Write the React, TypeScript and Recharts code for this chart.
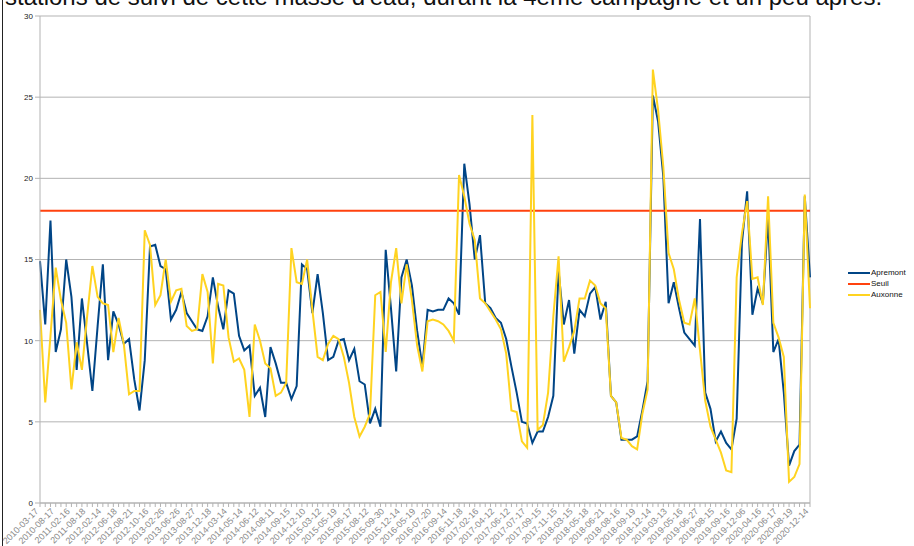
import { CartesianGrid, Line, LineChart, ReferenceLine, XAxis, YAxis } from "recharts";

// Apremont / Auxonne measurements, one value per sampling date
const apremont = [
  14.9, 11.0, 17.4, 9.3, 10.7, 15.0, 12.7, 8.2, 12.6, 9.8, 6.9, 10.9, 14.7, 8.8, 11.8, 11.0, 9.8, 10.1, 7.6, 5.7,
  8.8, 15.8, 15.9, 14.6, 14.4, 11.3, 11.9, 13.0, 11.7, 11.2, 10.7, 10.6, 11.5, 13.9, 12.1, 10.7, 13.1, 12.9,
  10.3, 9.4, 9.7, 6.6, 7.1, 5.3, 9.6, 8.6, 7.4, 7.4, 6.4, 7.2, 14.7, 14.4, 11.7, 14.1, 11.7, 8.8, 9.0, 10.0,
  10.1, 8.8, 9.5, 7.5, 7.3, 4.9, 5.8, 4.7, 15.6, 12.0, 8.1, 13.9, 15.0, 13.4, 10.6, 8.4, 11.9,
  11.8, 11.9, 11.9, 12.6, 12.3, 11.6, 20.9, 18.4, 15.0, 16.5, 12.3, 12.0, 11.4, 11.1, 10.1, 8.4, 6.8, 5.0,
  4.9, 3.7, 4.4, 4.4, 5.3, 6.6, 14.3, 11.0, 12.5, 9.2, 11.9, 11.5, 12.9, 13.3, 11.3, 12.4, 6.6, 6.2, 3.9,
  3.9, 3.9, 4.1, 5.7, 7.5, 25.1, 23.5, 20.1, 12.3, 13.6, 12.0, 10.5, 10.1, 9.7, 17.5, 6.8, 5.8, 3.8, 4.4,
  3.7, 3.3, 5.2, 16.0, 19.2, 11.6, 13.2, 12.3, 17.6, 9.3, 10.1, 6.8, 2.3, 3.2, 3.6, 18.9, 13.9,
];

const auxonne = [
  11.9, 6.2, 10.3, 14.5, 12.5, 11.1, 7.0, 9.9, 8.2, 11.5, 14.6, 12.7, 12.3, 12.2, 9.3, 11.4, 9.8, 6.7, 6.9, 6.9,
  16.8, 15.9, 12.2, 12.8, 15.0, 12.4, 13.1, 13.2, 10.9, 10.6, 10.7, 14.1, 13.0, 8.6, 13.5, 13.4, 10.2, 8.7,
  8.9, 8.2, 5.3, 11.0, 10.0, 8.6, 8.3, 6.6, 6.8, 7.4, 15.7, 13.6, 13.5, 15.0, 11.9, 9.0, 8.8, 9.8, 10.3,
  10.1, 9.0, 7.4, 5.3, 4.1, 4.7, 5.5, 12.8, 13.0, 9.3, 13.6, 15.7, 12.3, 14.7, 12.5, 9.7, 8.1, 11.2,
  11.3, 11.2, 11.0, 10.6, 10.0, 20.2, 18.9, 17.2, 16.2, 12.6, 12.3, 11.8, 11.3, 10.7, 9.2, 5.7, 5.6, 3.8,
  3.4, 23.9, 4.5, 4.8, 6.8, 11.5, 15.2, 8.7, 9.6, 10.6, 12.6, 12.6, 13.7, 13.4, 12.3, 12.0, 6.6, 6.2, 4.0,
  3.9, 3.5, 3.3, 5.5, 7.0, 26.7, 24.2, 20.7, 15.4, 14.4, 12.5, 11.1, 11.0, 12.6, 9.4, 6.3, 4.7, 3.9, 3.1,
  2.0, 1.9, 13.9, 16.6, 18.6, 13.8, 13.9, 12.2, 18.9, 11.1, 10.2, 9.0, 1.3, 1.6, 2.4, 19.0, 12.0,
];

const seuil = 18;

// dates shown under the axis (one label every 3rd sample)
const dateLabels = [
  "2010-03-17", "2010-08-17", "2011-02-16", "2011-08-18", "2012-02-14", "2012-06-18", "2012-08-21",
  "2012-10-16", "2013-02-26", "2013-06-26", "2013-08-27", "2013-12-18", "2014-03-14", "2014-05-14",
  "2014-06-12", "2014-08-11", "2014-09-15", "2014-12-10", "2015-03-12", "2015-05-19", "2015-06-17",
  "2015-08-12", "2015-09-30", "2015-12-14", "2016-05-19", "2016-07-20", "2016-09-14", "2016-11-18",
  "2017-02-16", "2017-04-12", "2017-06-12", "2017-07-17", "2017-09-15", "2017-11-15", "2018-03-15",
  "2018-05-18", "2018-06-21", "2018-08-16", "2018-09-19", "2018-12-14", "2019-03-13", "2019-05-16",
  "2019-06-27", "2019-08-15", "2019-09-16", "2019-12-06", "2020-04-16", "2020-06-17", "2020-08-19",
  "2020-12-14",
];
const labelStep = 3;

const yTicks = [0, 5, 10, 15, 20, 25, 30];

const series = [
  { key: "apremont", name: "Apremont", color: "#004586" },
  { key: "seuil", name: "Seuil", color: "#ff420e" },
  { key: "auxonne", name: "Auxonne", color: "#ffd320" },
];

const data = apremont.map((v, i) => ({ idx: i, apremont: v, seuil, auxonne: auxonne[i] }));
const allTicks = data.map((d) => d.idx);

function DateTick({ x, y, payload }: any) {
  const i = payload.value as number;
  if (i % labelStep !== 0) return null;
  const label = dateLabels[i / labelStep];
  return (
    <g transform={`translate(${x - 1},${y + 3})`}>
      <text textAnchor="end" transform="rotate(-45)" fontSize={9} fill="#8a8a8a" fontFamily="Liberation Sans, Arial, sans-serif">
        {label}
      </text>
    </g>
  );
}

export default function App() {
  return (
    <div style={{ position: "absolute", left: 0, top: 0, width: 914, height: 546, overflow: "hidden", background: "#fff" }}>
      <div
        style={{
          position: "absolute",
          left: 5,
          top: -17,
          fontFamily: "Liberation Sans, Arial, sans-serif",
          fontSize: 24,
          lineHeight: "28px",
          color: "#111",
          whiteSpace: "nowrap",
        }}
      >
        stations de suivi de cette masse d'eau, durant la 4ème campagne et un peu après.
      </div>
      <div style={{ position: "absolute", left: 2, top: 0, width: 1, height: 546, background: "#222" }} />

      <LineChart width={914} height={546} data={data} margin={{ top: 16, right: 104, bottom: 0, left: 0 }}>
        <CartesianGrid vertical={false} stroke="#b3b3b3" />
        <XAxis
          dataKey="idx"
          type="number"
          domain={[0, apremont.length - 1]}
          ticks={allTicks}
          interval={0}
          height={43}
          tick={<DateTick />}
          tickSize={4}
          stroke="#b3b3b3"
        />
        <YAxis
          domain={[0, 30]}
          ticks={yTicks}
          width={40}
          tickSize={5}
          tickMargin={2}
          stroke="#b3b3b3"
          tick={{ fontSize: 8, fill: "#222", fontFamily: "Liberation Sans, Arial, sans-serif" }}
        />
        <ReferenceLine x={apremont.length - 1} stroke="#b3b3b3" />
        {series.map((s) => (
          <Line
            key={s.key}
            dataKey={s.key}
            name={s.name}
            stroke={s.color}
            strokeWidth={2}
            dot={false}
            type="linear"
            isAnimationActive={false}
          />
        ))}
      </LineChart>

      <div style={{ position: "absolute", left: 848, top: 267, fontFamily: "Liberation Sans, Arial, sans-serif", fontSize: 8, color: "#111" }}>
        {series.map((s) => (
          <div key={s.key} style={{ display: "flex", alignItems: "center", height: 11 }}>
            <div style={{ width: 22, height: 2, background: s.color, marginRight: 1 }} />
            <span>{s.name}</span>
          </div>
        ))}
      </div>
    </div>
  );
}
